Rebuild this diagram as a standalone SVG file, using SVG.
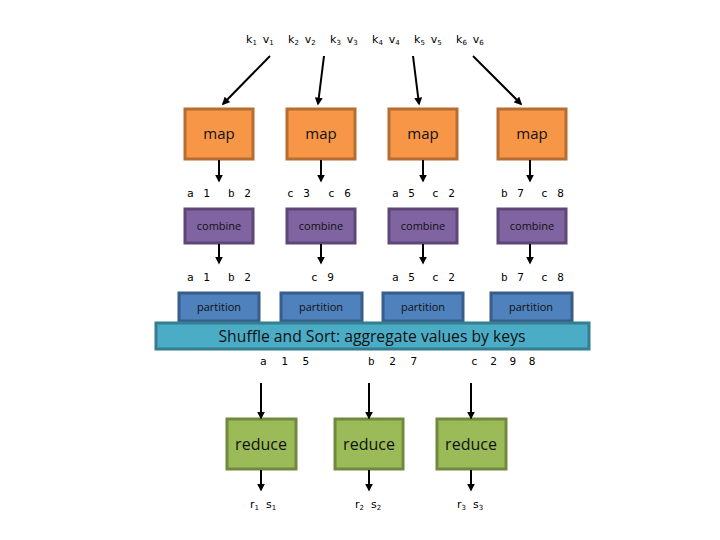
<svg xmlns="http://www.w3.org/2000/svg" width="720" height="540" viewBox="0 0 720 540">
<style>
text{font-family:"DejaVu Sans","Liberation Sans",sans-serif;fill:#000}
.kv{font-size:11px}
.mono{font-family:"DejaVu Sans Mono","Liberation Mono",monospace;word-spacing:3px}
.sub{font-size:7px}
.map rect{fill:#F79646;stroke:#B66D31;stroke-width:3}
.cmb rect{fill:#8064A2;stroke:#5C4776;stroke-width:3}
.par rect{fill:#4F81BD;stroke:#385D8A;stroke-width:3}
.red rect{fill:#9BBB59;stroke:#71893F;stroke-width:3}
.lbl{font-family:"Open Sans","Liberation Sans",sans-serif;text-anchor:middle;fill:#111}
.ml{font-size:15px}
.sl{font-size:11px}
.rl{font-size:16px}
.conn line{stroke:#000;stroke-width:2;marker-end:url(#ah)}
</style>
<defs>
<marker id="ah" viewBox="0 0 10 10" refX="8" refY="5" markerWidth="4" markerHeight="4" orient="auto" markerUnits="strokeWidth">
<path d="M0,0 L10,5 L0,10 z" fill="#000"/>
</marker>
</defs>
<rect width="720" height="540" fill="#fff"/>
<g id="inputs" class="kv">
<text x="246" y="43">k<tspan class="sub" dy="2">1</tspan><tspan dx="6" dy="-2">v</tspan><tspan class="sub" dy="2">1</tspan></text>
<text x="288" y="43">k<tspan class="sub" dy="2">2</tspan><tspan dx="6" dy="-2">v</tspan><tspan class="sub" dy="2">2</tspan></text>
<text x="330" y="43">k<tspan class="sub" dy="2">3</tspan><tspan dx="6" dy="-2">v</tspan><tspan class="sub" dy="2">3</tspan></text>
<text x="372" y="43">k<tspan class="sub" dy="2">4</tspan><tspan dx="6" dy="-2">v</tspan><tspan class="sub" dy="2">4</tspan></text>
<text x="414" y="43">k<tspan class="sub" dy="2">5</tspan><tspan dx="6" dy="-2">v</tspan><tspan class="sub" dy="2">5</tspan></text>
<text x="456" y="43">k<tspan class="sub" dy="2">6</tspan><tspan dx="6" dy="-2">v</tspan><tspan class="sub" dy="2">6</tspan></text>
</g>
<g id="map1" class="map"><rect x="185" y="109" width="68" height="50"/><text class="lbl ml" x="219" y="139">map</text></g>
<g id="map2" class="map"><rect x="287" y="109" width="68" height="50"/><text class="lbl ml" x="321" y="139">map</text></g>
<g id="map3" class="map"><rect x="389" y="109" width="68" height="50"/><text class="lbl ml" x="423" y="139">map</text></g>
<g id="map4" class="map"><rect x="498" y="109" width="68" height="50"/><text class="lbl ml" x="532" y="139">map</text></g>
<g id="mapout" class="kv">
<text class="mono" x="187" y="197">a 1</text><text class="mono" x="228" y="197">b 2</text>
<text class="mono" x="287" y="197">c 3</text><text class="mono" x="328" y="197">c 6</text>
<text class="mono" x="392" y="197">a 5</text><text class="mono" x="432" y="197">c 2</text>
<text class="mono" x="501" y="197">b 7</text><text class="mono" x="541" y="197">c 8</text>
</g>
<g id="combine1" class="cmb"><rect x="185" y="209" width="68" height="34"/><text class="lbl sl" x="219" y="230">combine</text></g>
<g id="combine2" class="cmb"><rect x="287" y="209" width="68" height="34"/><text class="lbl sl" x="321" y="230">combine</text></g>
<g id="combine3" class="cmb"><rect x="389" y="209" width="68" height="34"/><text class="lbl sl" x="423" y="230">combine</text></g>
<g id="combine4" class="cmb"><rect x="498" y="209" width="68" height="34"/><text class="lbl sl" x="532" y="230">combine</text></g>
<g id="cmbout" class="kv">
<text class="mono" x="187" y="281">a 1</text><text class="mono" x="228" y="281">b 2</text>
<text class="mono" x="311" y="281">c 9</text>
<text class="mono" x="392" y="281">a 5</text><text class="mono" x="432" y="281">c 2</text>
<text class="mono" x="501" y="281">b 7</text><text class="mono" x="541" y="281">c 8</text>
</g>
<g id="partition1" class="par"><rect x="179" y="293" width="80" height="28"/><text class="lbl sl" x="219" y="311">partition</text></g>
<g id="partition2" class="par"><rect x="281" y="293" width="81" height="28"/><text class="lbl sl" x="321" y="311">partition</text></g>
<g id="partition3" class="par"><rect x="383" y="293" width="80" height="28"/><text class="lbl sl" x="423" y="311">partition</text></g>
<g id="partition4" class="par"><rect x="491" y="293" width="81" height="28"/><text class="lbl sl" x="531" y="311">partition</text></g>
<g id="shuffle"><rect x="156" y="323" width="433" height="26" fill="#4BACC6" stroke="#357D91" stroke-width="3"/><text class="lbl" x="372" y="342" font-size="16" textLength="307" lengthAdjust="spacingAndGlyphs">Shuffle and Sort: aggregate values by keys</text></g>
<g id="grouped" class="kv">
<text class="mono" x="260" y="365" style="word-spacing:8px">a 1 5</text>
<text class="mono" x="368" y="365" style="word-spacing:8px">b 2 7</text>
<text class="mono" x="471" y="365" style="word-spacing:6px">c 2 9 8</text>
</g>
<g id="reduce1" class="red"><rect x="227" y="419" width="69" height="50"/><text class="lbl rl" x="261" y="450">reduce</text></g>
<g id="reduce2" class="red"><rect x="335" y="419" width="68" height="50"/><text class="lbl rl" x="369" y="450">reduce</text></g>
<g id="reduce3" class="red"><rect x="437" y="419" width="69" height="50"/><text class="lbl rl" x="471" y="450">reduce</text></g>
<g id="outputs" class="kv">
<text x="250" y="508">r<tspan class="sub" dy="2">1</tspan><tspan dx="7" dy="-2">s</tspan><tspan class="sub" dy="2">1</tspan></text>
<text x="355" y="508">r<tspan class="sub" dy="2">2</tspan><tspan dx="7" dy="-2">s</tspan><tspan class="sub" dy="2">2</tspan></text>
<text x="457" y="508">r<tspan class="sub" dy="2">3</tspan><tspan dx="7" dy="-2">s</tspan><tspan class="sub" dy="2">3</tspan></text>
</g>
<g id="connectors" class="conn">
<line x1="270" y1="56" x2="223" y2="104"/>
<line x1="324" y1="56" x2="318" y2="104"/>
<line x1="413" y1="56" x2="419" y2="104"/>
<line x1="473" y1="56" x2="521" y2="104"/>
<line x1="219" y1="160" x2="219" y2="181"/>
<line x1="321" y1="160" x2="321" y2="181"/>
<line x1="423" y1="160" x2="423" y2="181"/>
<line x1="530" y1="160" x2="530" y2="181"/>
<line x1="219" y1="244" x2="219" y2="263"/>
<line x1="321" y1="244" x2="321" y2="263"/>
<line x1="423" y1="244" x2="423" y2="263"/>
<line x1="530" y1="244" x2="530" y2="263"/>
<line x1="261" y1="383" x2="261" y2="418"/>
<line x1="369" y1="383" x2="369" y2="418"/>
<line x1="471" y1="383" x2="471" y2="418"/>
<line x1="261" y1="470" x2="261" y2="490"/>
<line x1="369" y1="470" x2="369" y2="490"/>
<line x1="471" y1="470" x2="471" y2="490"/>
</g>
</svg>
